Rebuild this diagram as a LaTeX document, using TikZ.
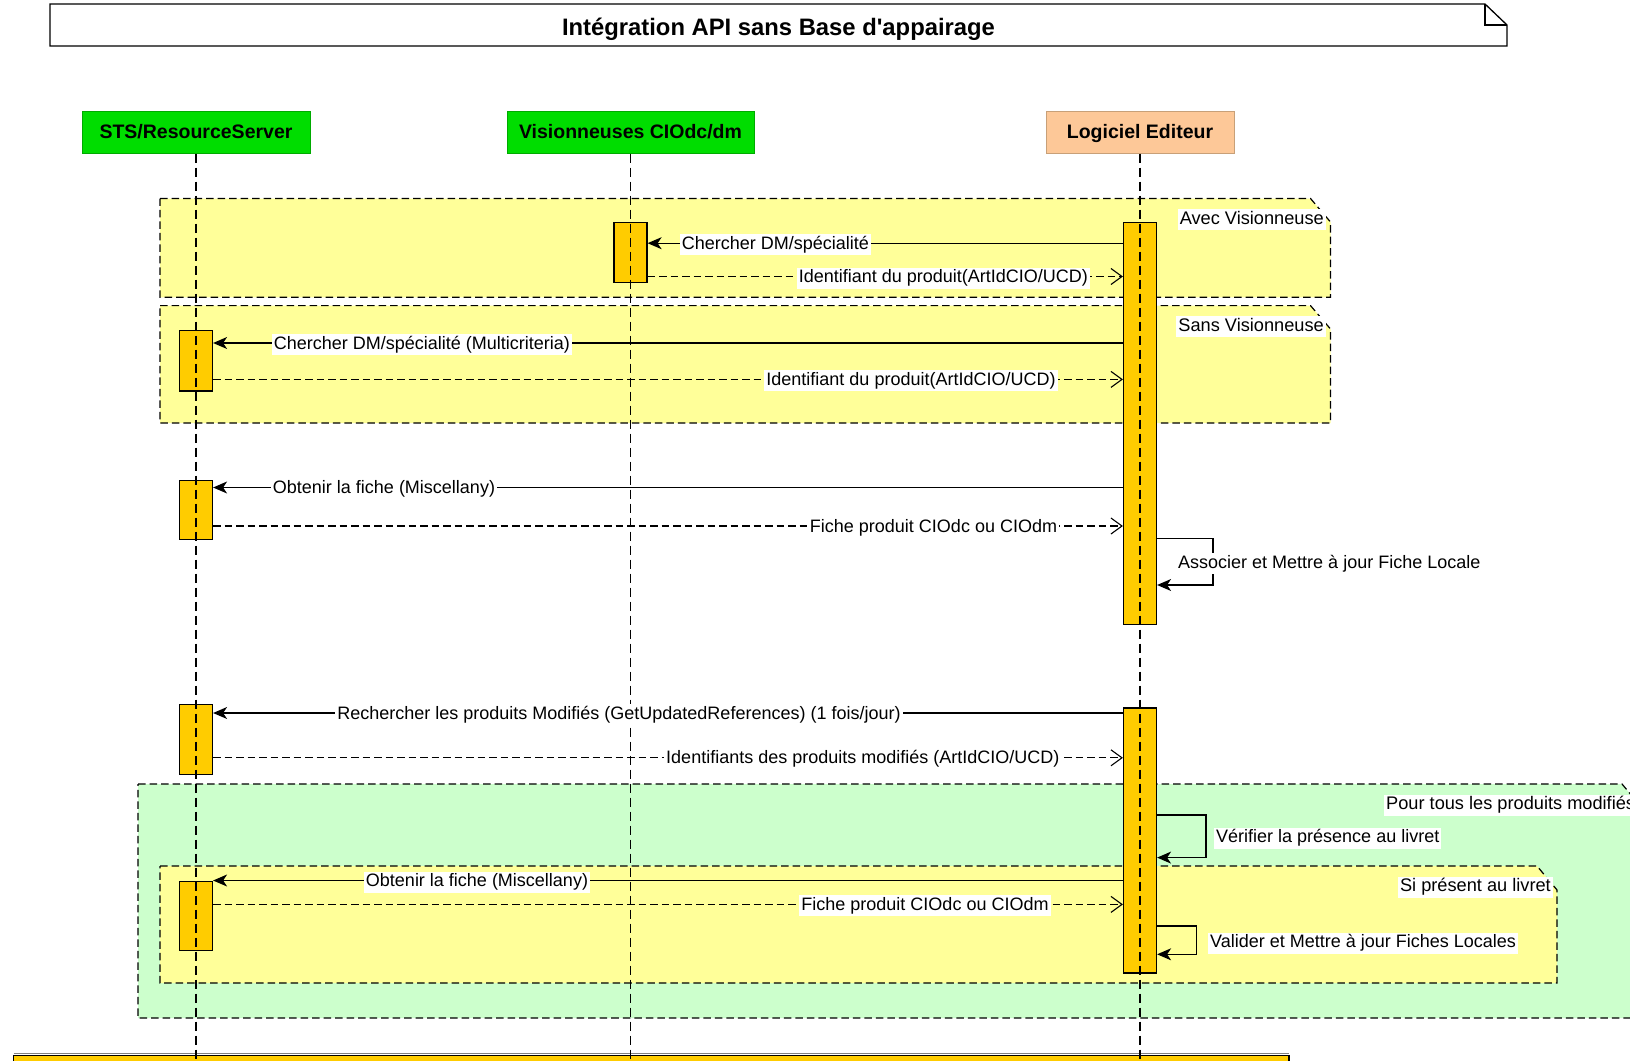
\documentclass[tikz,border=0pt]{standalone}
\usepackage{fontspec}
\setmainfont{Liberation Sans}
\usetikzlibrary{arrows.meta}
\definecolor{headgreen}{RGB}{0,221,0}
\definecolor{headgreenb}{RGB}{0,170,0}
\definecolor{headpeach}{RGB}{253,200,152}
\definecolor{headpeachb}{RGB}{200,160,120}
\definecolor{fragyellow}{RGB}{255,255,153}
\definecolor{fraggreen}{RGB}{204,255,204}
\definecolor{actgold}{RGB}{255,204,0}
\begin{document}
\begin{tikzpicture}[x=1pt,y=-1pt,
  headbox/.style={draw, line width=1pt, inner sep=0pt, minimum height=42pt, text height=13.8pt, text depth=0pt, font=\bfseries\fontsize{19.5}{22}\selectfont},
  actbox/.style={draw, line width=1.2pt, fill=actgold, inner sep=0pt, minimum width=33pt},
  lifeline/.style={line width=1.1pt, dash pattern=on 9pt off 5pt},
  frame/.style={line width=1.2pt, dash pattern=on 7.5pt off 4pt},
  callmsg/.style={line width=1.2pt, -{Stealth[length=14pt,width=12pt,inset=4pt]}},
  replymsg/.style={line width=1.1pt, dash pattern=on 7.5pt off 4pt, -{Straight Barb[length=11pt,width=16pt,line width=1.1pt]}},
  msglabel/.style={fill=white, inner sep=2pt, text height=13pt, text depth=4pt, yshift=-1.5pt, font=\fontsize{18}{21}\selectfont},
  fraglabel/.style={fill=white, inner sep=2pt, text height=13pt, text depth=4pt, yshift=-1.5pt, font=\fontsize{18.2}{21}\selectfont},
]
\useasboundingbox (0,0) rectangle (1630,1060);

% combined fragments
\draw[frame, fill=fragyellow] (160,198.5) -- (1310.5,198.5) -- (1330.5,222) -- (1330.5,297.3) -- (160,297.3) -- cycle;
\draw[frame, fill=fragyellow] (160,305.6) -- (1310.5,305.6) -- (1330.5,329) -- (1330.5,423) -- (160,423) -- cycle;
\draw[frame, fill=fraggreen] (138,784) -- (1622,784) -- (1642,808) -- (1642,1018) -- (138,1018) -- cycle;
\draw[frame, fill=fragyellow] (160,866) -- (1537,866) -- (1557,890) -- (1557,983) -- (160,983) -- cycle;

% title
\draw[line width=1.3pt] (50,4) -- (1485,4) -- (1507,25) -- (1507,46) -- (50,46) -- cycle;
\draw[line width=1.3pt] (1485,4) -- (1485,25) -- (1507,25);
\node[font=\bfseries\fontsize{23.8}{27}\selectfont, text height=17pt, text depth=0pt] (title) at (778.5,27) {Intégration API sans Base d\textquotesingle appairage};

% lifeline heads
\node[headbox, fill=headgreen, draw=headgreenb, minimum width=228pt] (sts) at (196,132) {STS/ResourceServer};
\node[headbox, fill=headgreen, draw=headgreenb, minimum width=247pt] (vis) at (630.5,132) {Visionneuses CIOdc/dm};
\node[headbox, fill=headpeach, draw=headpeachb, minimum width=188pt] (edi) at (1140,132) {Logiciel Editeur};

% bottom bar
\draw[gray, line width=1pt] (13.5,1053.3) -- (1289,1053.3);
\draw[line width=1.2pt, fill=actgold] (13.5,1055.5) rectangle (1289,1075);

% activations
\node[actbox, minimum height=60.2pt] (vact) at (630.5,252.6) {};
\node[actbox, minimum height=402.2pt] (a1) at (1140,423.6) {};
\node[actbox, minimum height=60.3pt] (b1) at (196,360.75) {};
\node[actbox, minimum height=59.3pt] (b2) at (196,509.85) {};
\node[actbox, minimum height=69.6pt] (b3) at (196,739.6) {};
\node[actbox, minimum height=265.1pt] (a2) at (1140,840.45) {};
\node[actbox, minimum height=68.6pt] (b4) at (196,915.8) {};

% lifelines
\coordinate (bot) at (0,1060);
\draw[lifeline] (sts.south) -- (sts.south |- bot);
\draw[lifeline] (vis.south) -- (vis.south |- bot);
\draw[lifeline] (edi.south) -- (edi.south |- bot);

% fragment labels
\node[fraglabel, anchor=east] (f1) at (1326,218) {Avec Visionneuse};
\node[fraglabel, anchor=east] (f2) at (1326,325) {Sans Visionneuse};
\node[fraglabel, anchor=west] (f3) at (1384,803.5) {Pour tous les produits modifiés};
\node[fraglabel, anchor=east] (f4) at (1553,885.6) {Si présent au livret};

% messages
\draw[callmsg] (a1.west |- 0,243.2) -- (vact.east |- 0,243.2);
\node[msglabel] (l1) at (775.5,243.2) {Chercher DM/spécialité};
\draw[replymsg] (vact.east |- 0,276.5) -- (a1.west |- 0,276.5);
\node[msglabel] (l2) at (943.3,276.5) {Identifiant du produit(ArtIdCIO/UCD)};

\draw[callmsg] (a1.west |- 0,343) -- (b1.east |- 0,343);
\node[msglabel] (l3) at (422,343) {Chercher DM/spécialité (Multicriteria)};
\draw[replymsg] (b1.east |- 0,379.4) -- (a1.west |- 0,379.4);
\node[msglabel] (l4) at (911,379.4) {Identifiant du produit(ArtIdCIO/UCD)};

\draw[callmsg] (a1.west |- 0,487.5) -- (b2.east |- 0,487.5);
\node[msglabel] (l5) at (384,487.5) {Obtenir la fiche (Miscellany)};
\draw[replymsg] (b2.east |- 0,526) -- (a1.west |- 0,526);
\node[msglabel] (l6) at (933.5,526) {Fiche produit CIOdc ou CIOdm};

\draw[callmsg] (a1.east |- 0,538.5) -- (1213,538.5) -- (1213,585) -- (a1.east |- 0,585);
\node[msglabel, anchor=west] (l7) at (1176,562.4) {Associer et Mettre à jour Fiche Locale};

\draw[callmsg] (a2.west |- 0,713) -- (b3.east |- 0,713);
\node[msglabel] (l8) at (619,713) {Rechercher les produits Modifiés (GetUpdatedReferences) (1 fois/jour)};
\draw[replymsg] (b3.east |- 0,757.8) -- (a2.west |- 0,757.8);
\node[msglabel] (l9) at (862.8,757.8) {Identifiants des produits modifiés (ArtIdCIO/UCD)};

\draw[callmsg] (a2.east |- 0,815) -- (1206,815) -- (1206,857.6) -- (a2.east |- 0,857.6);
\node[msglabel, anchor=west] (l10) at (1214,836.8) {Vérifier la présence au livret};

\draw[callmsg] (a2.west |- 0,880.5) -- (b4.east |- 0,880.5);
\node[msglabel] (l11) at (477,880.5) {Obtenir la fiche (Miscellany)};
\draw[replymsg] (b4.east |- 0,904.4) -- (a2.west |- 0,904.4);
\node[msglabel] (l12) at (925,904.4) {Fiche produit CIOdc ou CIOdm};

\draw[callmsg] (a2.east |- 0,926) -- (1196.5,926) -- (1196.5,954.3) -- (a2.east |- 0,954.3);
\node[msglabel, anchor=west] (l13) at (1208,941.8) {Valider et Mettre à jour Fiches Locales};
\end{tikzpicture}
\end{document}
